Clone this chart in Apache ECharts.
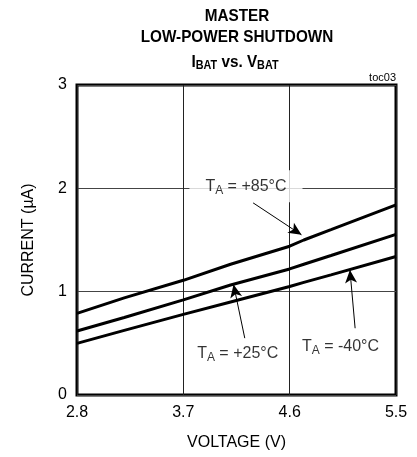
<!DOCTYPE html>
<html>
<head>
<meta charset="utf-8">
<script src="https://cdn.jsdelivr.net/npm/echarts@6/dist/echarts.min.js"></script>
<style>
html,body{margin:0;padding:0;background:#fff;}
#chart{width:417px;height:457px;}
</style>
</head>
<body>
<div id="chart"></div>
<script>
// ---- data ----
var voltage = [2.8, 3.2, 3.7, 4.1, 4.6, 4.72, 4.95, 5.5];
var current85 = [0.79, 0.94, 1.11, 1.265, 1.44, 1.50, 1.60, 1.84];
var current25 = [0.62, 0.75, 0.92, 1.065, 1.22, 1.265, 1.35, 1.555];
var currentM40 = [0.50, 0.625, 0.78, 0.90, 1.05, 1.09, 1.163, 1.34];
var xTicks = [2.8, 3.7, 4.6, 5.5];
var yTicks = [0, 1, 2, 3];
var seriesNames = ['+85°C', '+25°C', '-40°C'];

// ---- annotation layout (data space) ----
var labelAt = [[4.23, 2.02], [4.16, 0.40], [5.03, 0.47]];
var arrows = [
  [[4.29, 1.86], [4.70, 1.55]],
  [[4.22, 0.55], [4.125, 1.07]],
  [[5.154, 0.646], [5.11, 1.21]]
];

var FONT = "'Liberation Sans', Arial, sans-serif";

function pairs(xs, ys) { return xs.map(function (x, i) { return [x, ys[i]]; }); }

var chart = echarts.init(document.getElementById('chart'), null, {renderer: 'canvas'});

var lineStyle = {color: '#000', width: 3};
var arrowLines = arrows.map(function (a) { return [{coord: a[0]}, {coord: a[1]}]; });

var richTA = {
  t: {fontFamily: FONT, fontSize: 16, color: '#000', lineHeight: 20},
  s: {fontFamily: FONT, fontSize: 12, color: '#000', lineHeight: 20, verticalAlign: 'bottom'}
};

var labelData = labelAt.map(function (p, i) {
  var d = {value: p, name: seriesNames[i]};
  if (i === 0) { d.label = {backgroundColor: '#fff', padding: [6, 16, 6, 16]}; }
  return d;
});

var option = {
  animation: false,
  grid: {left: 77, right: 21, top: 85, bottom: 62, show: true, borderColor: '#000', borderWidth: 3, backgroundColor: 'transparent'},
  xAxis: {
    type: 'value', min: 2.8, max: 5.5, interval: 0.9,
    axisLine: {show: false}, axisTick: {show: false},
    splitLine: {show: true, lineStyle: {color: '#222', width: 1}},
    axisLabel: {fontFamily: FONT, fontSize: 16, color: '#000', margin: 10,
      formatter: function (v) { return v.toFixed(1); }},
    name: 'VOLTAGE (V)', nameLocation: 'middle', nameGap: 40,
    nameTextStyle: {fontFamily: FONT, fontSize: 16, color: '#000'}
  },
  yAxis: {
    type: 'value', min: 0, max: 3, interval: 1,
    axisLine: {show: false}, axisTick: {show: false},
    splitLine: {show: true, lineStyle: {color: '#444', width: 1}},
    axisLabel: {fontFamily: FONT, fontSize: 16, color: '#000', margin: 10},
    name: 'CURRENT (µA)', nameLocation: 'middle', nameGap: 40,
    nameTextStyle: {fontFamily: FONT, fontSize: 16, color: '#000'}
  },
  series: [
    {type: 'line', name: seriesNames[0], data: pairs(voltage, current85), showSymbol: false, symbol: 'none', lineStyle: lineStyle, z: 3},
    {type: 'line', name: seriesNames[1], data: pairs(voltage, current25), showSymbol: false, symbol: 'none', lineStyle: lineStyle, z: 3},
    {type: 'line', name: seriesNames[2], data: pairs(voltage, currentM40), showSymbol: false, symbol: 'none', lineStyle: lineStyle, z: 3,
      markLine: {silent: true, symbol: ['none', 'arrow'], symbolSize: [9, 13], label: {show: false},
        lineStyle: {color: '#000', width: 1, type: 'solid'}, data: arrowLines}},
    {type: 'scatter', symbolSize: 2, silent: true, z: 5,
      data: labelData,
      itemStyle: {color: 'rgba(0,0,0,0)'},
      label: {show: true, position: 'inside',
        formatter: function (p) { return '{t|T}{s|A}{t| = ' + p.name + '}'; },
        rich: richTA}
    }
  ],
  graphic: [
    {type: 'text', x: 237, y: 8, scaleX: 0.9, style: {text: 'MASTER', font: 'bold 17px ' + FONT, fill: '#000', textAlign: 'center'}},
    {type: 'text', x: 237, y: 29, scaleX: 0.9, style: {text: 'LOW-POWER SHUTDOWN', font: 'bold 17px ' + FONT, fill: '#000', textAlign: 'center'}},
    {type: 'text', x: 235, y: 52, scaleX: 0.9, style: {
      text: '{b|I}{bs|BAT}{b| vs. V}{bs|BAT}', textAlign: 'center',
      rich: {
        b: {fontFamily: FONT, fontWeight: 'bold', fontSize: 17, fill: '#000', lineHeight: 20},
        bs: {fontFamily: FONT, fontWeight: 'bold', fontSize: 12, fill: '#000', lineHeight: 20, verticalAlign: 'bottom'}
      }}},
    {type: 'text', x: 396, y: 72, style: {text: 'toc03', font: '11px ' + FONT, fill: '#000', textAlign: 'right'}}
  ]
};
chart.setOption(option);
</script>
</body>
</html>
